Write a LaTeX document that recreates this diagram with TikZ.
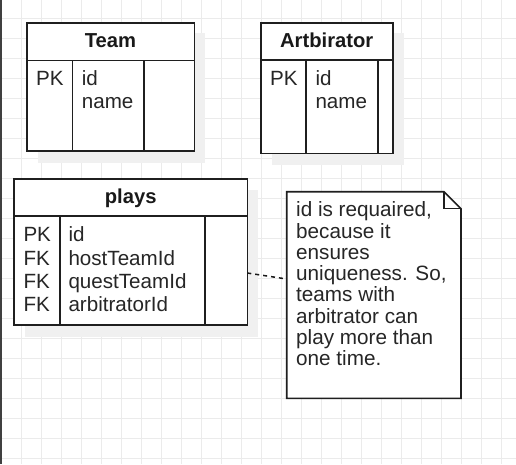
\documentclass[tikz,border=0pt]{standalone}
\usepackage{fontspec}
\setmainfont{Liberation Sans}
\newcommand\tlines[1]{\begin{tabular}[t]{@{}l@{}}#1\end{tabular}}
\begin{document}
\begin{tikzpicture}[x=1pt,y=-1pt,
  gridline/.style={draw=black!8,line width=1pt},
  frame/.style={draw=black!88,line width=1.6pt},
  tbl/.style={frame,fill=white,rectangle,inner sep=0pt,outer sep=0pt,anchor=north west},
  shadowbox/.style={fill=black!6,draw=none},
  hdr/.style={font=\bfseries\fontsize{20.2}{24}\selectfont,anchor=base,inner sep=0pt,text=black!90},
  cell/.style={font=\fontsize{20.6}{23.4}\selectfont,anchor=base west,inner sep=0pt,text=black!85},
  notetxt/.style={font=\fontsize{20.7}{21.1}\selectfont,anchor=base west,inner sep=0pt,text=black!85},
  conn/.style={draw=black!90,line width=1.5pt,dash pattern=on 4pt off 4pt}]
\useasboundingbox (0,0) rectangle (516,464);
\fill[white] (0,0) rectangle (516,464);
% grid
\foreach \gx in {21.5,41.5,...,516} \draw[gridline] (\gx,0) -- (\gx,464);
\foreach \gy in {18.3,38.3,...,464} \draw[gridline] (0,\gy) -- (516,\gy);
\draw[draw=black!75,line width=1.7pt] (0.85,0) -- (0.85,464);
% shadows
\fill[shadowbox] (38,33) rectangle (205,162.5);
\fill[shadowbox] (271.7,33) rectangle (403.5,164.5);
\fill[shadowbox] (25,190) rectangle (258,336.5);
% Team
\node[tbl,minimum width=167.6pt,minimum height=128.3pt] (team) at (26.7,22.7) {};
\draw[frame] (26.7,60.3) -- (194.3,60.3);
\draw[frame] (72.3,60.3) -- (72.3,151);
\draw[frame] (144,60.3) -- (144,151);
\node[hdr] (teamh) at (110.5,47) {Team};
\node[cell] (teamk) at (36,85) {PK};
\node[cell] (teamf) at (81.7,85) {\tlines{id\\name}};
% Artbirator
\node[tbl,minimum width=132pt,minimum height=130.6pt] (arb) at (260.7,22.7) {};
\draw[frame] (260.7,60) -- (392.7,60);
\draw[frame] (306,60) -- (306,153.3);
\draw[frame] (378,60) -- (378,153.3);
\node[hdr] (arbh) at (326.7,47) {Artbirator};
\node[cell] (arbk) at (270,85) {PK};
\node[cell] (arbf) at (315.3,85) {\tlines{id\\name}};
% plays
\node[tbl,minimum width=233.3pt,minimum height=146pt] (plays) at (14,179) {};
\draw[frame] (14,216) -- (247.3,216);
\draw[frame] (59.7,216) -- (59.7,325);
\draw[frame] (204.7,216) -- (204.7,325);
\node[hdr] (playsh) at (130.7,203.5) {plays};
\node[cell] (playsk) at (23.3,241.7) {\tlines{PK\\FK\\FK\\FK}};
\node[cell] (playsf) at (68.3,241.7) {\tlines{id\\hostTeamId\\questTeamId\\arbitratorId}};
% note
\node[rectangle,draw=none,minimum width=174.3pt,minimum height=206.6pt,inner sep=0pt,outer sep=0pt,anchor=north west] (note) at (286.7,191.7) {};
\filldraw[frame,fill=white,line join=miter] (286.7,191.7) -- (444,191.7) -- (461,208.7) -- (461,398.3) -- (286.7,398.3) -- cycle;
\draw[draw=black!88,line width=1.4pt,line join=miter] (444,191.7) -- (444,208.7) -- (461,208.7);
\node[notetxt] (notet) at (296,216.7) {\tlines{id is requaired,\\because it\\ensures\\uniqueness. So,\\teams with\\arbitrator can\\play more than\\one time.}};
% connector
\draw[conn] ([yshift=-21pt]plays.east) -- ([yshift=16pt]note.west);
\end{tikzpicture}
\end{document}
